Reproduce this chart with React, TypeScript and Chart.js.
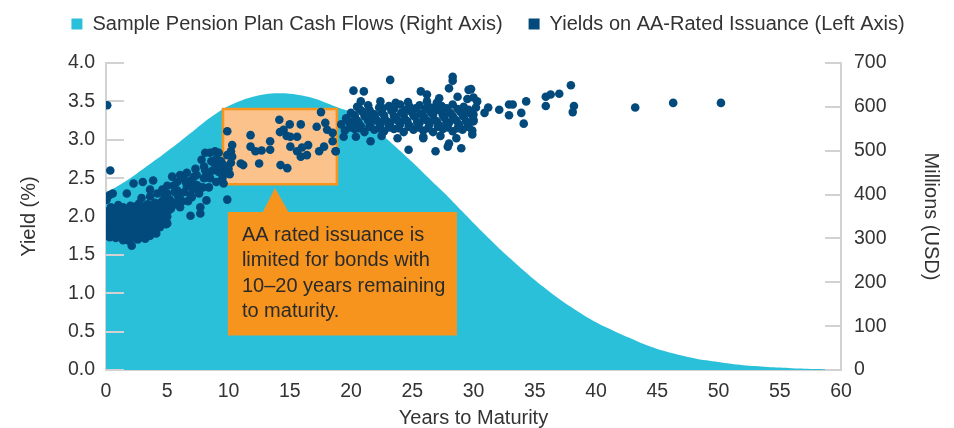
import React, { useEffect, useRef } from "react";
import { Chart, registerables } from "chart.js";

Chart.register(...registerables);

// ---------- DATA ----------
const YEARS = [
  0, 1, 2, 3, 4, 5, 6, 7, 8, 9, 10, 11, 12, 13, 14, 15, 16, 17, 18, 19, 20,
  21, 22, 23, 24, 25, 26, 27, 28, 29, 30, 31, 32, 33, 34, 35, 36, 37, 38, 39, 40,
  41, 42, 43, 44, 45, 46, 47, 48, 49, 50, 51, 52, 53, 54, 55, 56, 57, 58, 59, 60,
];

// Millions USD (right axis)
const CASH_FLOWS = [
  404, 420, 438, 458, 478, 499, 520, 542, 565, 585, 602, 614, 623, 629, 631, 630, 626, 619, 609, 598, 588,
  570, 549, 525, 500, 474, 447, 420, 393, 364, 335, 307, 280, 254, 229, 205, 183, 162, 143, 125, 109,
  95, 82, 70, 58, 48, 40, 33, 27, 22, 18, 14, 11, 9, 7, 5.5, 4, 3, 2, 1, 0.5,
];

// Yield (%) of AA-rated issuance: [years to maturity, yield]
const SHORT_YIELDS: [number, number][] = [
  [0.1, 3.45], [0.35, 2.6],
  [0.05, 2.22], [0.3, 2.28], [0.55, 2.3], [1.7, 2.3], [2.25, 2.43], [3.0, 2.45], [3.85, 2.47],
  [0.05, 1.76], [1.4, 1.69], [2.1, 1.62], [3.2, 1.71], [4.1, 1.78], [0.8, 1.72], [1.9, 1.68], [2.6, 1.7],
  [0.3, 1.73], [1.1, 1.74], [1.7, 1.72], [2.3, 1.73], [2.9, 1.74], [3.6, 1.75],
  [0.1, 1.79], [0.5, 1.77], [0.9, 1.8], [1.3, 1.76], [1.6, 1.79], [2.0, 1.75], [2.4, 1.78], [2.8, 1.76], [3.5, 1.79],
  [0.25, 1.81], [0.65, 1.8], [1.05, 1.82], [1.45, 1.81], [1.85, 1.8], [2.25, 1.82], [2.65, 1.81], [3.05, 1.8], [3.45, 1.82], [3.85, 1.8],
  [0.0, 1.86], [0.3, 1.84], [0.7, 1.85], [1.1, 1.83], [1.5, 1.86], [1.9, 1.84], [2.3, 1.85], [2.7, 1.83], [3.1, 1.86], [3.5, 1.85], [3.9, 1.84], [4.4, 1.86],
  [0.2, 1.88], [0.6, 1.89], [1.0, 1.87], [1.4, 1.88], [1.8, 1.9], [2.2, 1.88], [2.6, 1.87], [3.0, 1.89], [3.4, 1.88], [3.8, 1.9], [4.2, 1.88], [4.7, 1.95],
  [0.1, 1.92], [0.4, 1.93], [0.8, 1.91], [1.2, 1.94], [1.6, 1.92], [2.0, 1.9], [2.4, 1.93], [2.8, 1.92], [3.2, 1.94], [3.6, 1.91], [4.0, 1.93], [4.5, 1.92], [4.9, 1.9],
  [0.15, 1.96], [0.45, 1.97], [0.85, 1.95], [1.25, 1.97], [1.65, 1.96], [2.05, 1.95], [2.45, 1.97], [2.85, 1.96], [3.25, 1.98], [3.65, 1.96], [4.05, 1.98], [4.4, 1.97],
  [0.0, 2.0], [0.3, 2.02], [0.6, 1.99], [1.0, 2.01], [1.4, 2.0], [1.8, 2.03], [2.2, 1.99], [2.6, 2.02], [3.0, 2.0], [3.4, 2.03], [3.8, 2.0], [4.2, 2.02], [4.6, 2.04], [5.0, 2.0],
  [0.1, 2.04], [0.45, 2.05], [0.85, 2.03], [1.3, 2.05], [1.6, 2.04], [2.0, 2.06], [2.45, 2.04], [2.95, 2.05], [3.55, 2.06], [4.0, 2.05], [4.5, 2.07], [5.1, 2.08],
  [0.2, 2.07], [0.6, 2.06], [1.1, 2.08], [1.7, 2.07], [2.3, 2.09], [2.8, 2.06], [3.3, 2.1], [3.8, 2.08], [4.3, 2.1], [4.8, 2.12], [5.3, 2.1],
  [0.4, 2.12], [1.4, 2.12], [2.4, 2.13], [3.0, 2.13], [3.7, 2.14], [4.3, 2.15], [4.9, 2.17], [5.5, 2.15],
  [1.0, 2.15], [2.0, 2.14], [2.7, 2.17], [3.4, 2.16], [4.0, 2.18], [4.6, 2.2], [5.2, 2.22], [5.7, 2.18],
  [2.9, 2.24], [3.6, 2.26], [4.4, 2.17], [5.0, 2.3], [5.6, 2.32], [4.8, 2.26], [5.0, 1.91],
];

const MID_YIELDS: [number, number][] = [
  [5.4, 2.52], [6.05, 2.54], [6.6, 2.57], [6.9, 2.47], [7.4, 2.54], [7.8, 2.74], [8.1, 2.83], [8.5, 2.83],
  [8.9, 2.85], [9.2, 2.83], [9.3, 2.65], [9.7, 2.56], [9.6, 2.43], [6.9, 2.28], [8.2, 2.21], [7.7, 2.12],
  [6.9, 2.01], [7.7, 2.04], [6.05, 2.12], [4.4, 2.17], [5.2, 2.21], [5.8, 2.34], [6.6, 2.39], [7.4, 2.41],
  [9.05, 2.61], [9.9, 2.22], [6.3, 2.5], [7.0, 2.45], [8.0, 2.5], [8.4, 2.38], [8.7, 2.6], [9.0, 2.45],
  [9.4, 2.72], [9.8, 2.62], [10.1, 2.55], [10.2, 2.7], [5.9, 2.26], [6.4, 2.32], [7.1, 2.36], [7.6, 2.3],
  [8.3, 2.55], [8.8, 2.7], [9.5, 2.5],
  [5.5, 2.4], [5.8, 2.45], [6.1, 2.3], [6.2, 2.2], [6.5, 2.45], [6.7, 2.2], [7.0, 2.25], [7.2, 2.52],
  [7.5, 2.4], [7.9, 2.38], [8.1, 2.6], [8.5, 2.5], [8.6, 2.72], [9.0, 2.75], [9.2, 2.58], [9.6, 2.67],
  [9.9, 2.8], [10.2, 2.85], [5.0, 2.4], [4.6, 2.35], [4.2, 2.3], [3.6, 2.35], [7.3, 2.62], [8.0, 2.65],
];

const GAP_YIELDS: [number, number][] = [
  [9.9, 3.11], [10.3, 2.93], [11.8, 3.06], [11.8, 2.91], [12.2, 2.85], [12.5, 2.69], [11.2, 2.67], [11.0, 2.69],
  [10.3, 2.78], [13.4, 2.98], [13.4, 2.87], [14.15, 3.26], [14.25, 2.67], [14.8, 2.63], [14.5, 3.13], [15.0, 3.2],
  [15.05, 3.04], [15.6, 3.04], [15.9, 3.2], [15.05, 2.91], [15.6, 2.85], [15.9, 2.78], [16.4, 2.8], [16.5, 2.93],
  [17.4, 2.85], [17.2, 3.17], [17.55, 3.36], [17.9, 3.22], [17.8, 2.91], [18.05, 3.13], [18.5, 3.09], [18.5, 2.98],
  [18.75, 2.85], [12.7, 2.86], [14.2, 3.1], [14.75, 3.05], [16.0, 2.9], [10.0, 2.62],
];

const LONG_YIELDS: [number, number][] = [
  [19.4, 3.04], [20.4, 3.04], [21.6, 2.98], [22.5, 3.05], [23.8, 3.02], [25.9, 3.04], [27.3, 3.05], [28.6, 3.02], [29.9, 3.07],
  [19.5, 3.12], [20.3, 3.14], [21.1, 3.1], [21.9, 3.13], [22.7, 3.11], [23.5, 3.14], [24.3, 3.1], [25.1, 3.13], [25.9, 3.12], [26.7, 3.1], [27.5, 3.14], [28.3, 3.11], [29.1, 3.13], [29.9, 3.12],
  [19.9, 3.16], [20.7, 3.15], [21.5, 3.17], [22.3, 3.15], [23.1, 3.16], [23.9, 3.15], [24.7, 3.17], [25.5, 3.16], [26.3, 3.15], [27.1, 3.17], [27.9, 3.16], [28.7, 3.15], [29.5, 3.17],
  [19.2, 3.2], [20.0, 3.22], [20.8, 3.18], [21.6, 3.21], [22.4, 3.19], [23.2, 3.22], [24.0, 3.2], [24.8, 3.18], [25.6, 3.22], [26.4, 3.2], [27.2, 3.19], [28.0, 3.22], [28.8, 3.2], [29.6, 3.18],
  [19.8, 3.24], [20.6, 3.23], [21.4, 3.25], [22.2, 3.24], [23.0, 3.23], [23.8, 3.25], [24.6, 3.24], [25.4, 3.23], [26.2, 3.25], [27.0, 3.24], [27.8, 3.23], [28.6, 3.25], [29.4, 3.24],
  [19.6, 3.28], [20.4, 3.27], [21.2, 3.3], [22.0, 3.28], [22.8, 3.26], [23.6, 3.29], [24.4, 3.27], [25.2, 3.3], [26.0, 3.28], [26.8, 3.26], [27.6, 3.29], [28.4, 3.28], [29.2, 3.3], [30.0, 3.26],
  [20.3, 3.32], [21.1, 3.31], [21.9, 3.33], [22.7, 3.32], [23.5, 3.31], [24.3, 3.33], [25.1, 3.32], [25.9, 3.31], [26.7, 3.33], [27.5, 3.32], [28.3, 3.31], [29.1, 3.33], [29.9, 3.32],
  [20.0, 3.35], [20.9, 3.37], [21.7, 3.34], [22.5, 3.36], [23.3, 3.38], [24.1, 3.35], [24.9, 3.37], [25.7, 3.34], [26.5, 3.36], [27.3, 3.38], [28.1, 3.35], [28.9, 3.37], [29.7, 3.35],
  [20.7, 3.4], [21.5, 3.39], [22.6, 3.41], [23.5, 3.4], [24.4, 3.39], [25.3, 3.41], [26.1, 3.4], [27.0, 3.39], [27.8, 3.41], [28.7, 3.4], [29.6, 3.39],
  [20.5, 3.43], [21.4, 3.45], [22.3, 3.42], [23.1, 3.44], [24.0, 3.46], [24.8, 3.43], [25.6, 3.45], [26.5, 3.42], [27.4, 3.44], [28.3, 3.46], [29.2, 3.43],
  [23.2, 3.78], [28.3, 3.82], [28.3, 3.77], [20.2, 3.64], [21.05, 3.63], [25.7, 3.63], [26.2, 3.59], [28.0, 3.67], [29.6, 3.65],
  [29.8, 3.66], [20.8, 3.5], [22.4, 3.5], [23.65, 3.48], [24.65, 3.49], [26.2, 3.5], [27.2, 3.54], [28.7, 3.56], [29.5, 3.53],
  [30.0, 3.55], [30.3, 3.5], [27.0, 3.48],
  [24.7, 2.87], [26.9, 2.85], [27.9, 2.91], [29.0, 2.89], [25.9, 3.02], [18.75, 2.85], [28.0, 2.95],
];

const FAR_YIELDS: [number, number][] = [
  [30.2, 3.42], [30.0, 3.33], [30.0, 3.24], [30.9, 3.35], [31.2, 3.42], [32.1, 3.39], [32.9, 3.46], [33.2, 3.46],
  [32.9, 3.32], [33.9, 3.35], [34.1, 3.21], [34.3, 3.5], [35.9, 3.56], [36.3, 3.59], [37.0, 3.6], [37.95, 3.71],
  [35.9, 3.44], [38.2, 3.44], [38.1, 3.36], [43.2, 3.42], [46.3, 3.48], [50.2, 3.48],
];

const LEFT_TICKS = { min: 0, max: 4, step: 0.5 };
const RIGHT_TICKS = { min: 0, max: 700, step: 100 };

// annotation (data units)
const HIGHLIGHT = { x0: 9.55, x1: 18.85, y0: 2.42, y1: 3.4 };
const CALLOUT = { x0: 9.95, x1: 28.65, yTop: 2.06, yBottom: 0.45, tipX: 13.8, tipY: 2.37, baseX0: 12.8, baseX1: 14.9 };
const CALLOUT_LINES = [
  "AA rated issuance is",
  "limited for bonds with",
  "10\u201320 years remaining",
  "to maturity.",
];

const CYAN = "#2bc0da";
const NAVY = "#034a7c";
const ORANGE = "#f7941d";
const LIGHT_ORANGE = "#fbc28b";
const AXIS_GRAY = "#d2d2d2";
const TEXT = "#333333";
const FONT = "'Liberation Sans', Arial, Helvetica, sans-serif";

const overlayPlugin = {
  id: "overlay",
  beforeLayout(chart: any) {
    const lg = chart.legend;
    if (lg && !lg.__patched) {
      const orig = lg.fit.bind(lg);
      lg.fit = function () {
        orig();
        this.height = 63;
      };
      lg.__patched = true;
    }
  },
  afterLayout(chart: any) {
    const lg = chart.legend;
    if (lg) {
      lg.top = -12;
    }
  },
  afterDatasetDraw(chart: any, args: any) {
    if (args.index !== 0) return;
    const { ctx, chartArea } = chart;
    const ys = chart.scales.y;
    const y1 = chart.scales.y1;
    const xs = chart.scales.x;
    ctx.save();
    ctx.strokeStyle = AXIS_GRAY;
    ctx.lineWidth = 2;
    ys.ticks.forEach((t: any) => {
      const py = Math.round(ys.getPixelForValue(t.value));
      ctx.beginPath();
      ctx.moveTo(chartArea.left, py);
      ctx.lineTo(chartArea.left + 18, py);
      ctx.stroke();
    });
    y1.ticks.forEach((t: any) => {
      const py = Math.round(y1.getPixelForValue(t.value));
      ctx.beginPath();
      ctx.moveTo(chartArea.right - 16, py);
      ctx.lineTo(chartArea.right, py);
      ctx.stroke();
    });
    // highlight box
    const bx0 = xs.getPixelForValue(HIGHLIGHT.x0);
    const bx1 = xs.getPixelForValue(HIGHLIGHT.x1);
    const by0 = ys.getPixelForValue(HIGHLIGHT.y1);
    const by1 = ys.getPixelForValue(HIGHLIGHT.y0);
    ctx.fillStyle = LIGHT_ORANGE;
    ctx.fillRect(bx0, by0, bx1 - bx0, by1 - by0);
    ctx.strokeStyle = ORANGE;
    ctx.lineWidth = 2.5;
    ctx.strokeRect(bx0, by0, bx1 - bx0, by1 - by0);
    ctx.restore();
  },
  afterDatasetsDraw(chart: any) {
    const { ctx } = chart;
    const xs = chart.scales.x;
    const ys = chart.scales.y;
    const l = xs.getPixelForValue(CALLOUT.x0);
    const r = xs.getPixelForValue(CALLOUT.x1);
    const t = ys.getPixelForValue(CALLOUT.yTop);
    const b = ys.getPixelForValue(CALLOUT.yBottom);
    const tx = xs.getPixelForValue(CALLOUT.tipX);
    const ty = ys.getPixelForValue(CALLOUT.tipY);
    const bx0 = xs.getPixelForValue(CALLOUT.baseX0);
    const bx1 = xs.getPixelForValue(CALLOUT.baseX1);
    ctx.save();
    ctx.fillStyle = ORANGE;
    ctx.beginPath();
    ctx.moveTo(l, t);
    ctx.lineTo(bx0, t);
    ctx.lineTo(tx, ty);
    ctx.lineTo(bx1, t);
    ctx.lineTo(r, t);
    ctx.lineTo(r, b);
    ctx.lineTo(l, b);
    ctx.closePath();
    ctx.fill();
    ctx.fillStyle = "#2a2a2a";
    ctx.font = `20px ${FONT}`;
    ctx.textAlign = "left";
    ctx.textBaseline = "alphabetic";
    CALLOUT_LINES.forEach((line, i) => {
      ctx.fillText(line, l + 14, t + 29 + i * 25.5);
    });
    ctx.restore();
  },
};

export default function App() {
  const canvasRef = useRef<HTMLCanvasElement | null>(null);

  useEffect(() => {
    const canvas = canvasRef.current;
    if (!canvas) return;
    const allYields = [...SHORT_YIELDS, ...MID_YIELDS, ...GAP_YIELDS, ...LONG_YIELDS, ...FAR_YIELDS].map(
      ([x, y]) => ({ x, y })
    );
    const tickFont = { family: FONT, size: 19.5 };
    const titleFont = { family: FONT, size: 20, lineHeight: 1 };
    const chart = new Chart(canvas, {
      type: "scatter",
      data: {
        datasets: [
          {
            type: "line",
            label: "Sample Pension Plan Cash Flows (Right Axis)",
            data: YEARS.map((x, i) => ({ x, y: CASH_FLOWS[i] })),
            xAxisID: "x",
            yAxisID: "y1",
            fill: "origin",
            backgroundColor: CYAN,
            borderColor: CYAN,
            borderWidth: 0,
            pointRadius: 0,
            tension: 0.4,
            order: 2,
          } as any,
          {
            type: "scatter",
            label: "Yields on AA-Rated Issuance (Left Axis)",
            data: allYields,
            xAxisID: "x",
            yAxisID: "y",
            backgroundColor: NAVY,
            borderColor: NAVY,
            borderWidth: 0,
            pointRadius: 4.3,
            order: 1,
          } as any,
        ],
      },
      options: {
        responsive: false,
        animation: false,
        devicePixelRatio: 1,
        events: [],
        layout: { padding: { left: 22, right: 0, top: 0, bottom: 0 } },
        plugins: {
          tooltip: { enabled: false },
          legend: {
            position: "top",
            labels: {
              font: { family: FONT, size: 20 },
              color: TEXT,
              boxWidth: 11,
              boxHeight: 11,
              padding: 26,
              sort: (a: any, b: any) => a.datasetIndex - b.datasetIndex,
            },
          },
        },
        scales: {
          x: {
            type: "linear",
            min: 0,
            max: 60,
            ticks: { stepSize: 5, font: tickFont, color: TEXT, padding: 10, maxRotation: 0 },
            grid: { display: false, drawTicks: false },
            border: { display: true, color: AXIS_GRAY, width: 2 },
            title: { display: true, text: "Years to Maturity", font: titleFont, color: TEXT, padding: { top: 0, bottom: 0 } },
            afterFit: (s: any) => {
              s.height = 58;
            },
          },
          y: {
            type: "linear",
            position: "left",
            min: LEFT_TICKS.min,
            max: LEFT_TICKS.max,
            ticks: {
              stepSize: LEFT_TICKS.step,
              font: tickFont,
              color: TEXT,
              padding: 11,
              callback: (v: any) => Number(v).toFixed(1),
            },
            grid: { display: false, drawTicks: false },
            border: { display: true, color: AXIS_GRAY, width: 2 },
            title: { display: true, text: "Yield (%)", font: titleFont, color: TEXT, padding: { top: -3, bottom: 0 } },
            afterFit: (s: any) => {
              s.width = 84;
            },
          },
          y1: {
            type: "linear",
            position: "right",
            min: RIGHT_TICKS.min,
            max: RIGHT_TICKS.max,
            ticks: { stepSize: RIGHT_TICKS.step, font: tickFont, color: TEXT, padding: 13 },
            grid: { display: false, drawTicks: false },
            border: { display: true, color: AXIS_GRAY, width: 2 },
            title: { display: true, text: "Millions (USD)", font: titleFont, color: TEXT, padding: { top: 13, bottom: 0 } },
            afterFit: (s: any) => {
              s.width = 113;
            },
          },
        },
      },
      plugins: [overlayPlugin as any],
    });
    return () => chart.destroy();
  }, []);

  return (
    <div style={{ position: "absolute", left: 0, top: 0, width: 954, height: 428, background: "#fff" }}>
      <canvas ref={canvasRef} width={954} height={428} style={{ width: 954, height: 428, display: "block" }} />
    </div>
  );
}
